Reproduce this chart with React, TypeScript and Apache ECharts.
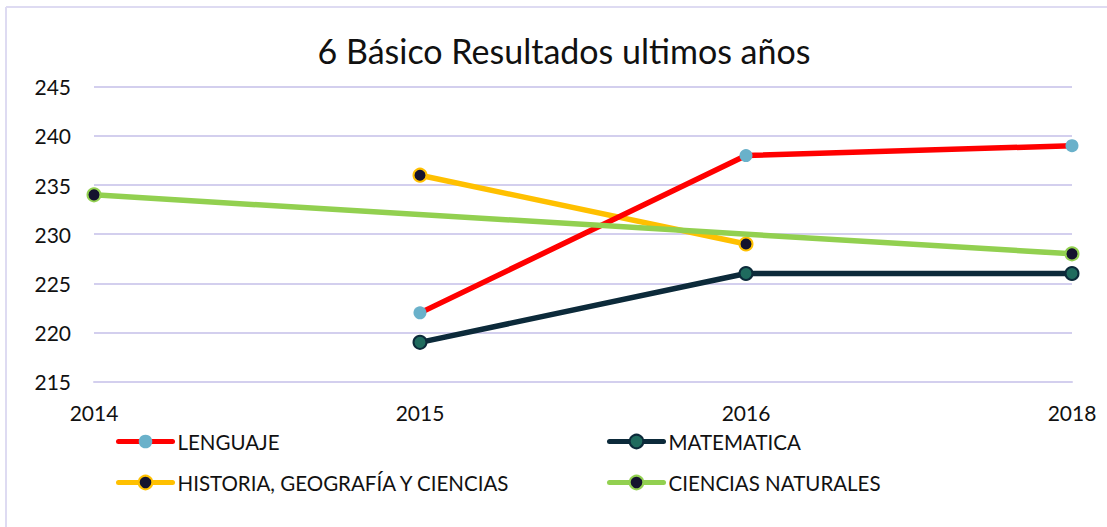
import React, { useEffect, useRef } from "react";
import * as echarts from "echarts";

const years = ["2014", "2015", "2016", "2018"];
const lenguaje = [null, 222, 238, 239];
const matematica = [null, 219, 226, 226];
const historia = [null, 236, 229, null];
const cienciasNaturales = [234, null, null, 228];

const titleText = "6 Básico Resultados ultimos años";
const names = ["LENGUAJE", "MATEMATICA", "HISTORIA, GEOGRAFÍA Y CIENCIAS", "CIENCIAS NATURALES"];

const FONT = "Lato";

export default function App() {
  const ref = useRef<HTMLDivElement>(null);
  useEffect(() => {
    if (!ref.current) return;
    const chart = echarts.init(ref.current, null, { renderer: "svg" });
    const legendText = { fontFamily: FONT, fontSize: 20.5, color: "#111" };
    const mkLegend = (name: string, left: number, top: number) => ({
      data: [name],
      left,
      top,
      itemWidth: 54,
      itemHeight: 17,
      itemGap: 0,
      textStyle: legendText,
      lineStyle: { width: 5, cap: "round" },
      padding: 0,
    });
    chart.setOption({
      animation: false,
      backgroundColor: "#fff",
      title: {
        text: titleText,
        left: 559,
        textAlign: "center",
        top: 28,
        textStyle: { fontFamily: FONT, fontSize: 34, fontWeight: "normal", color: "#111" },
      },
      graphic: [
        { type: "line", shape: { x1: 6, y1: 7, x2: 1107, y2: 7 }, style: { stroke: "#DEDBF2", lineWidth: 2 } },
        { type: "line", shape: { x1: 6, y1: 7, x2: 6, y2: 527 }, style: { stroke: "#DEDBF2", lineWidth: 2 } },
      ],
      legend: [
        mkLegend(names[0], 116, 431),
        mkLegend(names[1], 607, 431),
        mkLegend(names[2], 116, 472),
        mkLegend(names[3], 607, 472),
      ],
      grid: { left: 94, right: 35, top: 86.7, bottom: 145.3, containLabel: false },
      xAxis: {
        type: "category",
        data: years,
        boundaryGap: false,
        axisLine: { show: true, lineStyle: { color: "#D3CFEE", width: 2 } },
        axisTick: { show: false },
        axisLabel: { fontFamily: FONT, fontSize: 21, color: "#111", margin: 20 },
        splitLine: { show: false },
      },
      yAxis: {
        type: "value",
        min: 215,
        max: 245,
        interval: 5,
        axisLine: { show: false },
        axisTick: { show: false },
        axisLabel: { fontFamily: FONT, fontSize: 21, color: "#111", margin: 23 },
        splitLine: { lineStyle: { color: "#D3CFEE", width: 2 } },
      },
      series: [
        {
          name: names[0],
          type: "line",
          data: lenguaje,
          symbol: "circle",
          symbolSize: 13,
          lineStyle: { color: "#FF0000", width: 5.5 },
          itemStyle: { color: "#6AB1CA", borderColor: "#6AB1CA", borderWidth: 0 },
          z: 4,
        },
        {
          name: names[1],
          type: "line",
          data: matematica,
          symbol: "circle",
          symbolSize: 13,
          lineStyle: { color: "#0C2A3A", width: 5.5 },
          itemStyle: { color: "#1F6B5E", borderColor: "#0C2A3A", borderWidth: 2 },
          z: 3,
        },
        {
          name: names[2],
          type: "line",
          data: historia,
          symbol: "circle",
          symbolSize: 13,
          lineStyle: { color: "#FFC000", width: 5.5 },
          itemStyle: { color: "#14132E", borderColor: "#FFC000", borderWidth: 2 },
          z: 2,
        },
        {
          name: names[3],
          type: "line",
          data: cienciasNaturales,
          connectNulls: true,
          symbol: "circle",
          symbolSize: 13,
          lineStyle: { color: "#92D050", width: 5.5 },
          itemStyle: { color: "#14132E", borderColor: "#92D050", borderWidth: 2 },
          z: 5,
        },
      ],
    });
    return () => chart.dispose();
  }, []);
  return (
    <div
      ref={ref}
      style={{ position: "fixed", left: 0, top: 0, width: 1107, height: 527 }}
    />
  );
}
